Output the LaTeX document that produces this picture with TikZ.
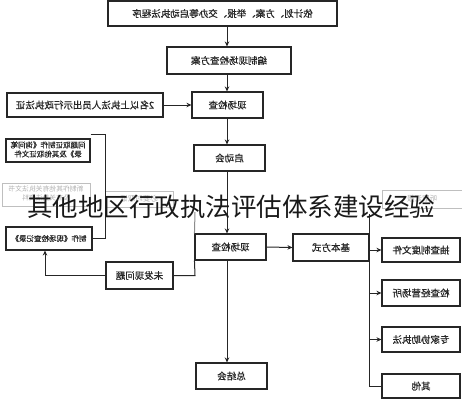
\documentclass[tikz,border=0pt]{standalone}
\usepackage{fontspec}
\usepackage{graphicx}
\setmainfont{Noto Sans CJK SC}
\newfontfamily\boxfont{Noto Sans CJK SC}[FakeBold=0.6]
\usetikzlibrary{arrows.meta}
\tikzset{
  box/.style={draw=black!85, line width=1.1pt, fill=white, inner sep=0pt, align=center, font=\boxfont\fontsize{9.5}{11}\selectfont, text=black!85},
  ghost/.style={draw=black!25, line width=1pt, fill=white, inner sep=0pt, align=center, font=\fontsize{7.5}{9}\selectfont, text=black!30},
  link/.style={draw=black!85, line width=1pt},
  arr/.style={link, -{Stealth[length=5pt,width=4.5pt]}},
}
\newcommand{\mir}[1]{\reflectbox{#1}}
\begin{document}
\begin{tikzpicture}[x=1pt,y=-1pt]
\useasboundingbox (0,0) rectangle (462,400);
\fill[white] (0,0) rectangle (462,400);
\coordinate (axis) at (227,0);
% main column
\node[box, minimum width=229pt, minimum height=25pt] (top) at (222.5,13.5) {\mir{依计划、方案、举报、交办等启动执法程序}};
\node[box, minimum width=124pt, minimum height=27pt] (plan) at (229,60.5) {\mir{编制现场检查方案}};
\node[box, minimum width=71pt, minimum height=26pt] (chka) at (227.5,105) {\mir{现场检查}};
\node[box, minimum width=156pt, minimum height=24pt] (staff) at (85,105) {\mir{2名以上执法人员出示行政执法证}};
\node[box, minimum width=71pt, minimum height=26pt] (kick) at (229.5,158) {\mir{启动会}};
\node[box, minimum width=84pt, minimum height=23pt, font=\boxfont\fontsize{7.5}{9}\selectfont] (recA) at (48,150.5) {\mir{\begin{tabular}{@{}c@{}}问题取证制作《询问笔\\录》及其他取证文件\end{tabular}}};
\node[ghost, minimum width=88pt, minimum height=23pt, font=\fontsize{6.8}{8.5}\selectfont] (recB) at (46,194.5) {\mir{\begin{tabular}{@{}c@{}}新制作其他有关执法文书\\及有关执法资料\end{tabular}}};
\node[box, minimum width=86pt, minimum height=23pt, font=\boxfont\fontsize{7.5}{9}\selectfont] (recC) at (49,238.5) {\mir{制作《现场检查记录》}};
\node[ghost, minimum width=68pt, minimum height=16pt] (gmid) at (139,199) {\mir{必要时取证}};
\node[box, minimum width=71pt, minimum height=26pt] (chkb) at (230.5,247) {\mir{现场检查}};
\node[box, minimum width=67pt, minimum height=27pt] (nf) at (139.5,275.5) {\mir{未发现问题}};
\node[box, minimum width=76pt, minimum height=27pt] (basic) at (331,247.5) {\mir{基本方式}};
\node[box, minimum width=78pt, minimum height=24pt] (ra) at (421,250) {\mir{抽查制度文件}};
\node[box, minimum width=78pt, minimum height=26pt] (rb) at (421,293) {\mir{检查经营场所}};
\node[box, minimum width=78pt, minimum height=25pt] (rc) at (421,339.5) {\mir{专家协助执法}};
\node[box, minimum width=78pt, minimum height=24pt] (rd) at (421,386) {\mir{其他}};
\node[ghost, minimum width=80pt, minimum height=18pt] (gright) at (422,199) {\mir{听取汇报}};
\node[box, minimum width=71pt, minimum height=26pt] (sum) at (231.5,376) {\mir{总结会}};
% main spine arrows
\draw[arr] (top.south -| axis) -- (plan.north -| axis);
\draw[arr] (plan.south -| axis) -- (chka.north -| axis);
\draw[arr] (chka.south -| axis) -- (kick.north -| axis);
\draw[arr] (kick.south -| axis) -- (chkb.north -| axis);
\draw[arr] (chkb.south -| axis) -- (sum.north -| axis);
\draw[arr] (staff.east) -- (chka.west);
% bracket of records
\coordinate (brk) at (105,0);
\draw[link] ([yshift=4pt]recA.north east) -- ([yshift=4pt]recA.north east -| brk) -- (recC.east -| brk) -- (recC.east);
% not-found branch
\coordinate (nfx) at (195,0);
\coordinate (upx) at (45,0);
\draw[black!45, line width=1pt] (195,212) -- (chkb.north west);
\draw[link] (chkb.south west) -- (nf.east -| nfx) -- (nf.east);
\draw[arr] (nf.west) -- (nf.west -| upx) -- (recC.south -| upx);
% basic ways
\draw[arr] (chkb.east) -- (basic.west);
\coordinate (sp) at (369,0);
\draw[link] (369,214) -- (rd.west -| sp) -- (rd.west);
\draw[arr] (ra.west -| sp) -- (ra.west);
\draw[arr] (rb.west -| sp) -- (rb.west);
\draw[arr] (rc.west -| sp) -- (rc.west);
% overlay caption
\node[inner sep=0pt, font=\fontsize{25.5}{28}\selectfont, text=black!90] (cap) at (231,207) {其他地区行政执法评估体系建设经验};
\end{tikzpicture}
\end{document}
